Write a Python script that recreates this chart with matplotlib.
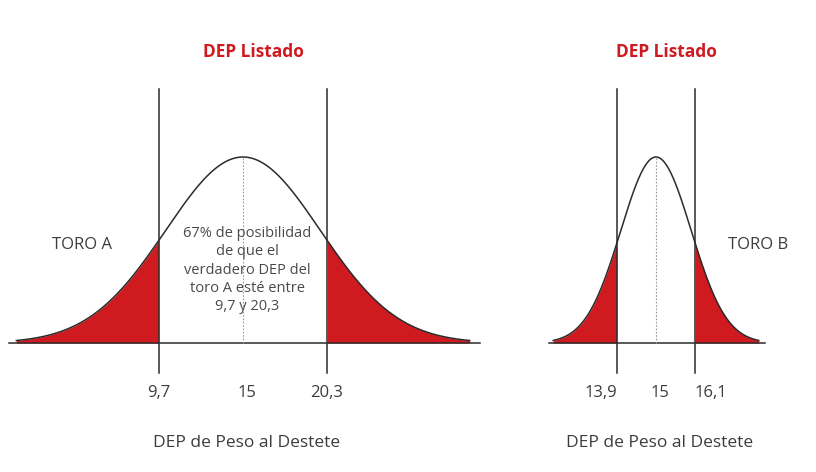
import numpy as np
import matplotlib.pyplot as plt

# DEP values for the two bulls
bulls = ['TORO A', 'TORO B']
dep_mean = [15, 15]
dep_low = [9.7, 13.9]
dep_high = [20.3, 16.1]
curve_sd = [4.87, 0.99]          # spread of the drawn bell curve
curve_span = [14.3, 2.9]         # half-width of the drawn curve
base_ext = [0.45, 0.12]          # baseline overhang past the curve
low_labels = ['9,7', '13,9']
mid_labels = ['15', '15']
high_labels = ['20,3', '16,1']
title = 'DEP Listado'
xlabel = 'DEP de Peso al Destete'
note = '67% de posibilidad\nde que el\nverdadero DEP del\ntoro A esté entre\n9,7 y 20,3'

RED = '#cf1a20'
INK = '#2b2b2b'
TXT = '#3c3c3c'

plt.rcParams['font.family'] = ['Liberation Sans Narrow', 'Open Sans', 'DejaVu Sans']

W, H = 816, 472
fig = plt.figure(figsize=(W / 100, H / 100), dpi=100)

# pixel layout: (axes left px, axes right px, px of mean, px per unit)
layout = [(0, 500, 243, 15.85), (520, 816, 656, 35.45)]
base_px, peak_px = 343, 157
ppu_y = base_px - peak_px
ylim = (-(H - base_px) / ppu_y, base_px / ppu_y)

def py(p):
    return (base_px - p) / ppu_y

for i, (l, r, c, ppu) in enumerate(layout):
    ax = fig.add_axes([l / W, 0, (r - l) / W, 1])
    m = dep_mean[i]
    ax.set_xlim(m - (c - l) / ppu, m + (r - c) / ppu)
    ax.set_ylim(*ylim)
    ax.axis('off')

    x = np.linspace(m - curve_span[i], m + curve_span[i], 600)
    y = np.exp(-0.5 * ((x - m) / curve_sd[i]) ** 2)

    ax.fill_between(x, 0, y, where=x <= dep_low[i], color=RED, lw=0)
    ax.fill_between(x, 0, y, where=x >= dep_high[i], color=RED, lw=0)
    ax.plot(x, y, color=INK, lw=1.1)
    ax.plot([x[0] - base_ext[i], x[-1] + base_ext[i] * 1.5], [0, 0], color=INK, lw=1.1)
    ax.plot([m, m], [0, 1], color='#9a9a9a', lw=0.8, ls=(0, (1.5, 1.5)))
    for v in (dep_low[i], dep_high[i]):
        ax.plot([v, v], [py(373), py(89)], color=INK, lw=1.1)

    ax.text(m + (10 / ppu), py(52), title, color=RED, fontsize=12.5, fontweight='bold',
            ha='center', va='center')

    tick_y = py(393)
    if i == 0:
        ax.text(dep_low[i], tick_y, low_labels[i], ha='center', va='center', fontsize=12, color=TXT)
        ax.text(dep_high[i], tick_y, high_labels[i], ha='center', va='center', fontsize=12, color=TXT)
    else:
        ax.text(dep_low[i], tick_y, low_labels[i], ha='right', va='center', fontsize=12, color=TXT)
        ax.text(dep_high[i], tick_y, high_labels[i], ha='left', va='center', fontsize=12, color=TXT)
    ax.text(m + 4 / ppu, tick_y, mid_labels[i], ha='center', va='center', fontsize=12, color=TXT)

    ax.text(m + 4 / ppu, py(443), xlabel, ha='center', va='center', fontsize=12.5, color=TXT)

    toro_x = [82, 758][i]
    ax.text(m + (toro_x - c) / ppu, py(245), bulls[i], ha='center', va='center',
            fontsize=12, color=TXT)

    if i == 0:
        ax.text(m + 4 / ppu, py(270), note, ha='center', va='center', fontsize=10.5,
                color='#4a4a4a', linespacing=1.3)

fig.savefig('out.png', dpi=100, facecolor='white')
